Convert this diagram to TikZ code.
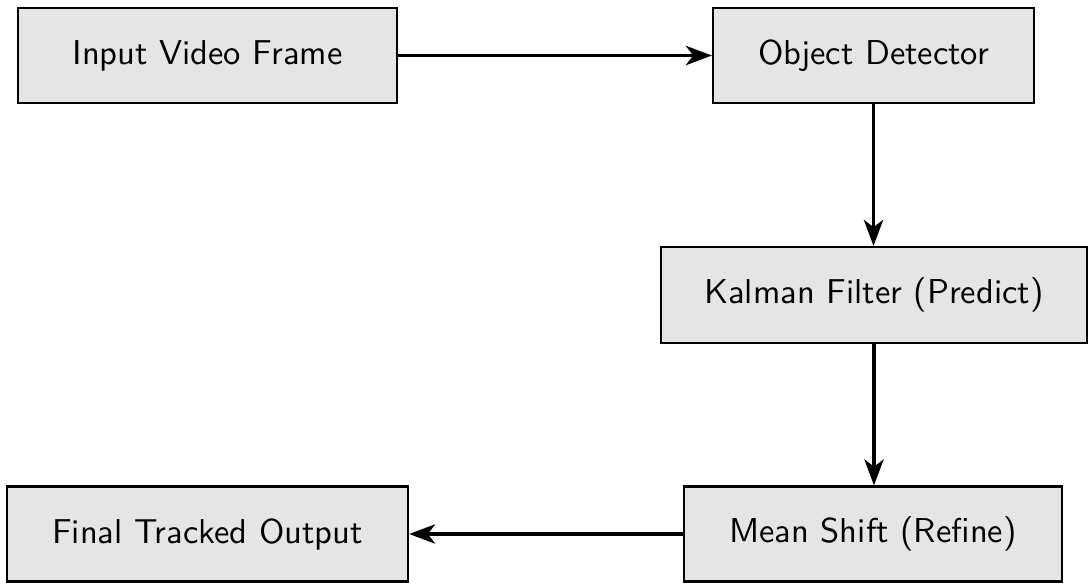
\documentclass[tikz,border=0pt]{standalone}
\usetikzlibrary{arrows.meta}
\begin{document}
\begin{tikzpicture}[x=0.3pt,y=-0.3pt,
  box/.style={draw, line width=0.7pt, fill=gray!20, inner sep=0pt, font=\sffamily\fontsize{10.35}{12}\selectfont, minimum height=28.5pt},
  conn/.style={line width=0.95pt, -{Stealth[length=7.8pt,width=5.8pt,inset=2.2pt]}}]
\useasboundingbox (0,0) rectangle (1089,582);
\node[box, minimum width=113.7pt] (in) at (207.5,55.5) {Input Video Frame};
\node[box, minimum width=96.3pt] (od) at (873.5,55.5) {Object Detector};
\node[box, minimum width=127.8pt, minimum height=28.8pt] (kf) at (874,295) {Kalman Filter (Predict)};
\node[box, minimum width=113.4pt] (ms) at (873,534) {Mean Shift (Refine)};
\node[box, minimum width=120.3pt] (out) at (207.5,534) {Final Tracked Output};
\draw[conn] (in.east) -- (od.west);
\draw[conn] (od.south) -- (od.south |- kf.north);
\draw[conn] (kf.south) -- (kf.south |- ms.north);
\draw[conn] (ms.west) -- (out.east);
\end{tikzpicture}
\end{document}
